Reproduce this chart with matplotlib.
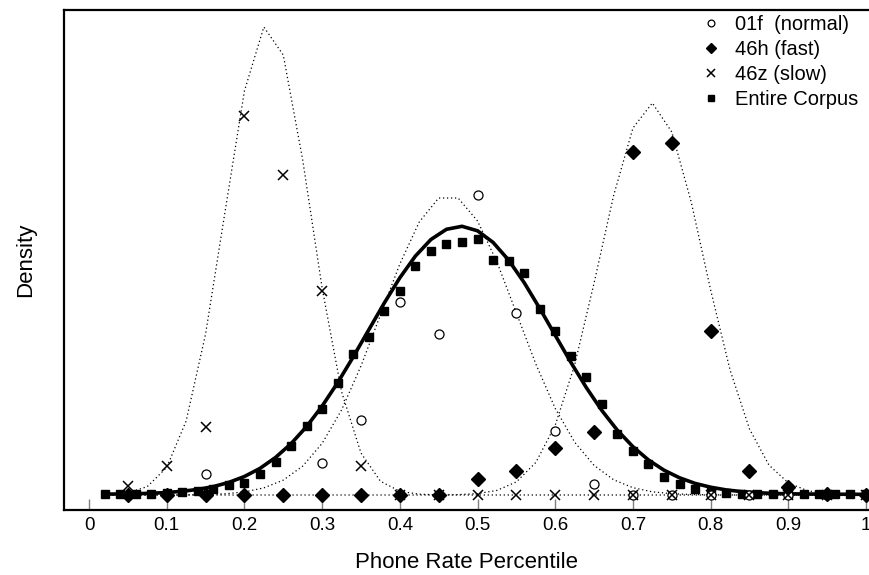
import numpy as np
import matplotlib
matplotlib.use("Agg")
import matplotlib.pyplot as plt

plt.rcParams['font.family'] = ['Liberation Sans', 'DejaVu Sans']

# subject points every 0.05
subj_x = np.linspace(0.05, 1.0, 20)
normal_01f = [0.0, 0.0, 0.215, 0.0, 0.0, 0.323, 0.75, 1.935, 1.607, 3.0,
              1.817, 0.643, 0.107, 0.0, 0.0, 0.0, 0.0, 0.0, 0.0, 0.0]
fast_46h = [0.0, 0.0, 0.0, 0.0, 0.0, 0.0, 0.0, 0.0, 0.0, 0.157,
            0.24, 0.467, 0.627, 3.433, 3.517, 1.64, 0.24, 0.083, 0.007, 0.005]
slow_46z = [0.093, 0.293, 0.677, 3.79, 3.205, 2.04, 0.293, 0.0, 0.0, 0.0,
            0.0, 0.0, 0.0, 0.0, 0.0, 0.0, 0.0, 0.0, 0.0, 0.0]

# whole corpus histogram, every 0.02
corpus_x = np.linspace(0.02, 1.0, 50)
corpus = [0.01, 0.01, 0.01, 0.012, 0.017, 0.033, 0.043, 0.057, 0.097, 0.123,
          0.21, 0.333, 0.493, 0.69, 0.857, 1.117, 1.41, 1.583, 1.843, 2.04,
          2.29, 2.443, 2.507, 2.527, 2.56, 2.353, 2.337, 2.217, 1.857, 1.643,
          1.393, 1.183, 0.907, 0.61, 0.44, 0.307, 0.177, 0.11, 0.063, 0.027,
          0.017, 0.007, 0.007, 0.007, 0.007, 0.007, 0.007, 0.007, 0.007, 0.007]

# fitted curve for the corpus
corpus_fit = [0.009, 0.010, 0.013, 0.017, 0.025, 0.037, 0.056, 0.084, 0.126, 0.185,
              0.266, 0.375, 0.513, 0.684, 0.889, 1.123, 1.381, 1.651, 1.92, 2.172,
              2.389, 2.555, 2.657, 2.687, 2.642, 2.526, 2.349, 2.124, 1.867, 1.597,
              1.328, 1.074, 0.845, 0.647, 0.483, 0.35, 0.248, 0.172, 0.116, 0.078,
              0.051, 0.034, 0.023, 0.016, 0.012, 0.010, 0.009, 0.008, 0.007, 0.007]

# speaker curves (dotted), every 0.025
curve_x = np.linspace(0.025, 1.0, 40)
normal_curve = [0.0, 0.0, 0.0, 0.0, 0.001, 0.005, 0.012, 0.031, 0.071, 0.149,
                0.289, 0.516, 0.85, 1.29, 1.80, 2.31, 2.73, 2.97, 2.97, 2.74,
                2.33, 1.82, 1.31, 0.866, 0.528, 0.296, 0.153, 0.073, 0.032, 0.013,
                0.005, 0.002, 0.0, 0.0, 0.0, 0.0, 0.0, 0.0, 0.0, 0.0]
fast_curve = [0.0, 0.0, 0.0, 0.0, 0.0, 0.0, 0.0, 0.0, 0.0, 0.0,
              0.0, 0.0, 0.0, 0.0, 0.0, 0.0, 0.0, 0.0, 0.004, 0.014,
              0.046, 0.131, 0.325, 0.698, 1.30, 2.12, 2.99, 3.67, 3.92, 3.63,
              2.93, 2.05, 1.25, 0.66, 0.30, 0.121, 0.042, 0.013, 0.003, 0.001]
slow_curve = [0.004, 0.021, 0.084, 0.276, 0.74, 1.61, 2.83, 4.04, 4.68, 4.40,
              3.35, 2.07, 1.034, 0.42, 0.138, 0.037, 0.008, 0.001, 0.0, 0.0,
              0.0, 0.0, 0.0, 0.0, 0.0, 0.0, 0.0, 0.0, 0.0, 0.0,
              0.0, 0.0, 0.0, 0.0, 0.0, 0.0, 0.0, 0.0, 0.0, 0.0]

fig = plt.figure(figsize=(8.7, 5.75), dpi=100)
ax = fig.add_axes([64 / 870, 65 / 575, 806 / 870, 500 / 575])

dots = (0, (1, 2.2))
ax.plot(curve_x, normal_curve, color='black', lw=0.9, linestyle=dots)
ax.plot(curve_x, fast_curve, color='black', lw=0.9, linestyle=dots)
ax.plot(curve_x, slow_curve, color='black', lw=0.9, linestyle=dots)
ax.plot(corpus_x, corpus_fit, color='black', lw=2.6, solid_joinstyle='miter')

ax.plot(corpus_x, corpus, 's', color='black', ms=5.5, label='Entire Corpus', zorder=4)
ax.plot(subj_x, normal_01f, 'o', mfc='white', mec='black', mew=0.9, ms=6.5,
        label='01f  (normal)', zorder=5)
ax.plot(subj_x, fast_46h, 'D', color='black', ms=7, label='46h (fast)', zorder=6)
ax.plot(subj_x, slow_46z, 'x', color='black', mew=1.1, ms=7, label='46z (slow)', zorder=7)

ax.set_xlim(-0.0322, 1.0051)
ax.set_ylim(-0.15, 4.85)
ax.set_xticks(np.linspace(0, 1, 11))
ax.set_xticklabels(['0', '0.1', '0.2', '0.3', '0.4', '0.5', '0.6', '0.7', '0.8', '0.9', '1'])
ax.set_yticks([])
ax.tick_params(axis='x', direction='in', length=8, width=1, color='#808080',
               labelsize=13.5, pad=5)

for side in ['left', 'top', 'bottom']:
    ax.spines[side].set_linewidth(1.6)
ax.spines['right'].set_visible(False)

ax.set_xlabel('Phone Rate Percentile', fontsize=16, labelpad=13)
ax.set_ylabel('Density', fontsize=16, labelpad=20)

handles, labels = ax.get_legend_handles_labels()
order = [1, 2, 3, 0]
ax.legend([handles[i] for i in order], [labels[i] for i in order],
          loc='upper right', frameon=False, fontsize=14.5, numpoints=1,
          markerscale=0.75, handlelength=1.0, handletextpad=0.7,
          labelspacing=0.3, borderaxespad=0.0, bbox_to_anchor=(0.996, 1.007))

fig.savefig('out.png', dpi=100)
